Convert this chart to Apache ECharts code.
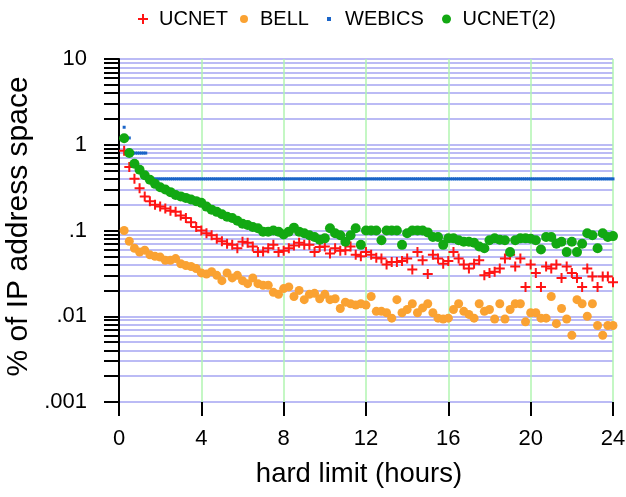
<!DOCTYPE html>
<html>
<head>
<meta charset="utf-8">
<script src="https://cdn.jsdelivr.net/npm/echarts@6/dist/echarts.min.js"></script>
<style>
  html, body { margin: 0; padding: 0; background: #fff; }
  #chart { width: 626px; height: 497px; }
</style>
</head>
<body>
<div id="chart"></div>
<script>
// Sampling times (hours) shared by the UCNET, BELL and UCNET(2) series
const hours = [
  0.25,0.5,0.75,1,1.25,1.5,1.75,2,
  2.25,2.5,2.75,3,3.25,3.5,3.75,4,
  4.25,4.5,4.75,5,5.25,5.5,5.75,6,
  6.25,6.5,6.75,7,7.25,7.5,7.75,8,
  8.25,8.5,8.75,9,9.25,9.5,9.75,10,
  10.25,10.5,10.75,11,11.25,11.5,11.75,12,
  12.25,12.5,12.75,13,13.25,13.5,13.75,14,
  14.25,14.5,14.75,15,15.25,15.5,15.75,16,
  16.25,16.5,16.75,17,17.25,17.5,17.75,18,
  18.25,18.5,18.75,19,19.25,19.5,19.75,20,
  20.25,20.5,20.75,21,21.25,21.5,21.75,22,
  22.25,22.5,22.75,23,23.25,23.5,23.75,24
];

// % of IP address space
const ucnet = [
  0.85,0.55,0.40,0.31,0.25,0.22,0.20,0.19,
  0.18,0.17,0.165,0.15,0.14,0.125,0.11,0.10,
  0.093,0.088,0.08,0.075,0.07,0.068,0.062,0.074,
  0.072,0.065,0.056,0.057,0.062,0.068,0.056,0.058,
  0.062,0.067,0.072,0.068,0.068,0.056,0.064,0.065,
  0.054,0.062,0.058,0.059,0.065,0.052,0.05,0.056,
  0.052,0.048,0.047,0.04,0.043,0.043,0.044,0.047,
  0.035,0.056,0.045,0.031,0.052,0.047,0.041,0.044,
  0.056,0.047,0.04,0.036,0.041,0.045,0.03,0.032,
  0.033,0.036,0.047,0.052,0.038,0.047,0.022,0.04,
  0.032,0.022,0.038,0.036,0.04,0.028,0.038,0.032,
  0.028,0.022,0.036,0.029,0.022,0.029,0.029,0.025
];

const bell = [
  0.10,0.075,0.062,0.056,0.059,0.052,0.05,0.049,
  0.045,0.045,0.047,0.041,0.039,0.038,0.036,0.032,
  0.031,0.033,0.030,0.026,0.032,0.028,0.030,0.026,
  0.024,0.028,0.024,0.023,0.023,0.019,0.018,0.021,
  0.022,0.017,0.020,0.0156,0.018,0.0185,0.016,0.018,
  0.0156,0.016,0.0123,0.0146,0.014,0.0135,0.014,0.0135,
  0.017,0.0114,0.0114,0.011,0.0095,0.0156,0.011,0.012,
  0.014,0.011,0.0125,0.014,0.011,0.0095,0.0093,0.0095,
  0.012,0.014,0.0114,0.0105,0.0095,0.014,0.0114,0.012,
  0.0093,0.014,0.0093,0.012,0.014,0.014,0.0086,0.011,
  0.011,0.0095,0.0095,0.017,0.0082,0.0123,0.0093,0.006,
  0.0156,0.014,0.010,0.014,0.0078,0.006,0.0078,0.0078
];

const ucnet2 = [
  1.19,0.80,0.60,0.51,0.44,0.39,0.35,0.32,
  0.30,0.28,0.26,0.25,0.24,0.23,0.22,0.21,
  0.19,0.175,0.165,0.155,0.145,0.14,0.13,0.12,
  0.116,0.11,0.106,0.097,0.097,0.1,0.097,0.09,
  0.097,0.108,0.097,0.093,0.088,0.084,0.078,0.081,
  0.106,0.093,0.088,0.074,0.088,0.106,0.068,0.1,
  0.1,0.1,0.077,0.1,0.1,0.1,0.068,0.093,
  0.1,0.1,0.1,0.095,0.084,0.084,0.068,0.081,
  0.081,0.077,0.074,0.074,0.072,0.065,0.062,0.077,
  0.081,0.078,0.077,0.056,0.077,0.081,0.081,0.08,
  0.077,0.06,0.084,0.084,0.07,0.074,0.056,0.074,
  0.056,0.07,0.093,0.088,0.062,0.093,0.084,0.086
];

// WEBICS holds flat levels: [first hour, last hour, %], sampled every 0.1 h
const webicsRuns = [
  [0.25, 0.25, 1.6],
  [0.5, 0.5, 1.2],
  [0.7, 1.3, 0.8],
  [1.6, 24, 0.4]
];
const webicsStep = 0.1;

const seriesNames = ['UCNET', 'BELL', 'WEBICS', 'UCNET(2)'];
const xTicks = [0, 4, 8, 12, 16, 20, 24];
const yDecades = [0.001, 0.01, 0.1, 1, 10];
const yTickLabels = ['.001', '.01', '.1', '1', '10'];

// minor log ticks: 1..9 within each decade, plus the top value
const yTickValues = [];
for (let d = 0; d < yDecades.length - 1; d++) {
  for (let k = 1; k <= 9; k++) yTickValues.push(+(yDecades[d] * k).toPrecision(3));
}
yTickValues.push(yDecades[yDecades.length - 1]);

const webicsData = [];
webicsRuns.forEach(([a, b, v]) => {
  for (let t = a; t <= b + 1e-9; t += webicsStep) webicsData.push([+t.toFixed(2), v]);
});

const pair = arr => hours.map((h, i) => [h, arr[i]]);
const plusPath = 'path://M4,0H6V4H10V6H6V10H4V6H0V4H4Z';
const squarePath = 'path://M0,0H1V1H0Z';

const FONT = '"Liberation Sans", Arial, sans-serif';
const colors = { ucnet: '#ff1414', bell: '#faa232', webics: '#1a64c8', ucnet2: '#12a812' };

function legendAt(name, left, h, icon) {
  const item = { name: name };
  if (icon) item.icon = icon;
  return {
    data: [item], left: left, top: 4, itemWidth: 22, itemHeight: h,
    selectedMode: false, symbolKeepAspect: true,
    textStyle: { fontSize: 20, color: '#000', fontFamily: FONT }
  };
}

const chart = echarts.init(document.getElementById('chart'), null, { renderer: 'canvas' });
chart.setOption({
  animation: false,
  textStyle: { fontFamily: FONT },
  legend: [
    legendAt('UCNET', 133, 10),
    legendAt('BELL', 235, 8),
    legendAt('WEBICS', 322, 4, squarePath),
    legendAt('UCNET(2)', 437, 9)
  ],
  grid: { left: 119, right: 13, top: 59, bottom: 95, containLabel: false, outerBoundsMode: 'none' },
  xAxis: {
    type: 'value', min: xTicks[0], max: xTicks[xTicks.length - 1], interval: 4,
    axisLine: { show: false },
    axisTick: { show: true, length: 14, lineStyle: { color: '#000', width: 2 } },
    axisLabel: { fontSize: 22, color: '#000', margin: 26, fontFamily: FONT },
    splitLine: { show: true, lineStyle: { color: '#b0f5b0', width: 1.5 } },
    name: 'hard limit (hours)', nameLocation: 'middle', nameGap: 58,
    nameTextStyle: { fontSize: 27.5, color: '#000', fontFamily: FONT, padding: [0, 14, 0, 0] }
  },
  yAxis: {
    type: 'log', logBase: 10, min: 0.001, max: 10,
    axisLine: { show: true, lineStyle: { color: '#000', width: 2 } },
    axisTick: { show: true, length: 15, lineStyle: { color: '#000', width: 2 }, customValues: yTickValues },
    axisLabel: {
      fontSize: 22, color: '#000', margin: 32, fontFamily: FONT,
      customValues: yDecades,
      formatter: v => yTickLabels[Math.round(Math.log10(v)) + 3]
    },
    splitLine: { show: true, lineStyle: { color: '#a4a4f2', width: 1.5 } },
    name: '% of IP address space', nameLocation: 'middle', nameGap: 67,
    nameTextStyle: { fontSize: 30, color: '#000', fontFamily: FONT, padding: [0, 0, 0, 8] }
  },
  series: [
    { name: seriesNames[0], type: 'scatter', data: pair(ucnet), symbol: plusPath, symbolSize: 10,
      itemStyle: { color: colors.ucnet, opacity: 1 }, z: 3 },
    { name: seriesNames[1], type: 'scatter', data: pair(bell), symbol: 'circle', symbolSize: 9,
      itemStyle: { color: colors.bell, opacity: 1 }, z: 4 },
    { name: seriesNames[2], type: 'scatter', data: webicsData, symbol: 'rect', symbolSize: [3, 3],
      itemStyle: { color: colors.webics, opacity: 1 }, z: 5 },
    { name: seriesNames[3], type: 'scatter', data: pair(ucnet2), symbol: 'circle', symbolSize: 10,
      itemStyle: { color: colors.ucnet2, opacity: 1 }, z: 6 }
  ]
});
</script>
</body>
</html>
